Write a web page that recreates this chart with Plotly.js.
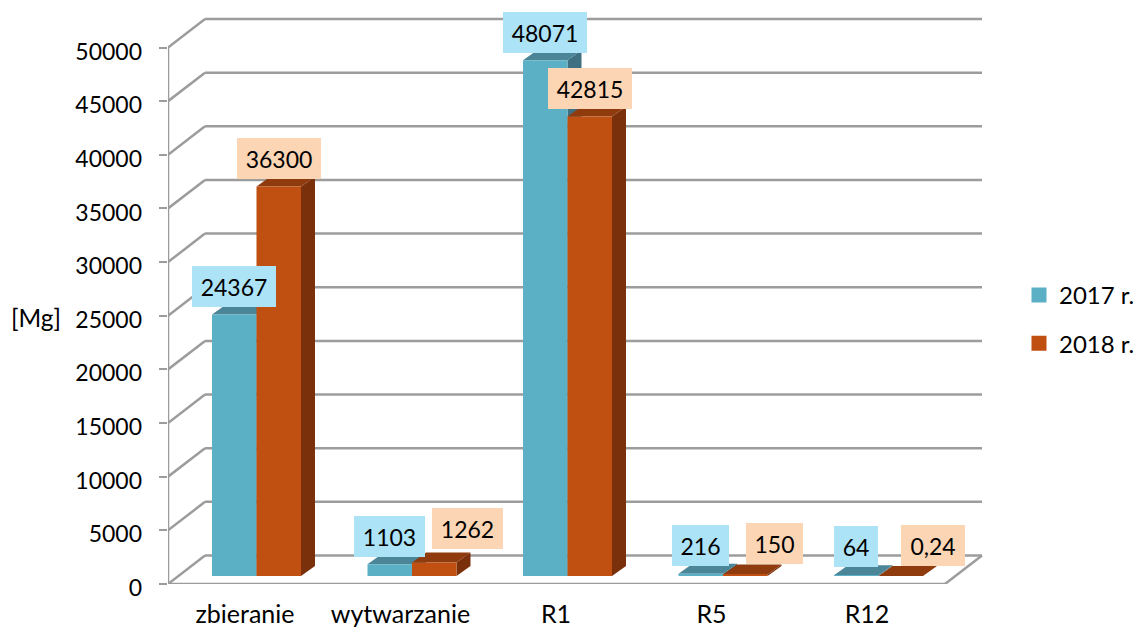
<!DOCTYPE html>
<html>
<head>
<meta charset="utf-8">
<script src="https://cdn.plot.ly/plotly-3.0.1.min.js"></script>
<style>html,body{margin:0;padding:0;background:#fff;overflow:hidden}#c{width:1135px;height:629px}</style>
</head>
<body>
<div id="c"></div>
<script>
const categories = ['zbieranie', 'wytwarzanie', 'R1', 'R5', 'R12'];
const values2017 = [24367, 1103, 48071, 216, 64];
const values2018 = [36300, 1262, 42815, 150, 0.24];
const labels2017 = ['24367', '1103', '48071', '216', '64'];
const labels2018 = ['36300', '1262', '42815', '150', '0,24'];
const yTicks = [0, 5000, 10000, 15000, 20000, 25000, 30000, 35000, 40000, 45000, 50000];

// Presentation constants
const W = 1135, H = 629;
const labelDrop = 4;
const M = {l: 168, r: 151, t: 17, b: 45 - labelDrop, autoexpand: false};
const plotW = W - M.l - M.r, plotH = H - M.t - M.b;
const mainH = plotH - labelDrop;
const pxPerCat = 155.5, pxPerVal = 536.5 / 50000;
const ux = p => p / pxPerCat, uy = p => p / pxPerVal;
const xMin = -77 / pxPerCat;
const xMax = xMin + plotW / pxPerCat;
const yMax = mainH / pxPerVal;
const wallDX = ux(37), wallDY = uy(28.5);
const barW = ux(44.5), barDX = ux(14), barDY = uy(10), barBase = uy(8);
const off17 = ux(-10.75), off18 = ux(33.75);
const floorRight = ux(777) + xMin;
const lineCol = '#9c9c9c';
const c17 = '#5cb0c6', c18 = '#c05011';
const top17 = '#4a8598', side17 = '#3f7081', top18 = '#8f3b0d', side18 = '#7b300c';
const bg17 = '#ade3f7', bg18 = '#fcd5b5';
const shift17X = [0, 0, 0, 0, 0], shift17Y = [28, 28, 28, 28, 29];
const shift18X = [0, 33, 0, 29, 32], shift18Y = [28, 34, 28, 31, 31];
const width17 = [84, 71, 84, 57, 44], width18 = [84, 71, 84, 57, 64];
const fontName = 'Lato, Carlito, sans-serif', fs = 23;
const paperX = px => (px - M.l) / plotW;
const paperY = py => (H - M.b - py) / plotH;

const shapes = [];
const line = (x0, y0, x1, y1) => shapes.push({type: 'line', xref: 'x', yref: 'y', x0, y0, x1, y1, layer: 'below', line: {color: lineCol, width: 2.5}});
yTicks.forEach(v => {
  line(xMin, v, xMin + wallDX, v + wallDY);
  line(xMin + wallDX, v + wallDY, floorRight + wallDX, v + wallDY);
});
line(xMin, 0, xMin, 50000);
line(xMin, 0, floorRight, 0);
line(floorRight, 0, floorRight + wallDX, wallDY);

const poly = (pts, color) => shapes.push({
  type: 'path', xref: 'x', yref: 'y', layer: 'below', line: {width: 0}, fillcolor: color,
  path: 'M' + pts.map(p => p[0] + ',' + p[1]).join('L') + 'Z'
});
const box3d = (vals, off, topCol, sideCol) => vals.forEach((v, i) => {
  const l = i + off - barW / 2, r = i + off + barW / 2, t = barBase + v;
  poly([[r, barBase], [r + barDX, barBase + barDY], [r + barDX, t + barDY], [r, t]], sideCol);
  poly([[l, t], [r, t], [r + barDX, t + barDY], [l + barDX, t + barDY]], topCol);
});
box3d(values2017, off17, top17, side17);
box3d(values2018, off18, top18, side18);

const barTrace = (name, vals, off, color) => ({
  type: 'bar', name, legendgroup: name, showlegend: false,
  x: vals.map((_, i) => i + off), y: vals, base: vals.map(() => barBase),
  width: barW, marker: {color, line: {width: 0}}, hoverinfo: 'y+name'
});
const legendTrace = (name, color) => ({
  type: 'bar', name, legendgroup: name, showlegend: true,
  x: [null], y: [null], marker: {color, line: {color, width: 3}}, hoverinfo: 'skip'
});

const annotations = [];
const addLabels = (vals, texts, off, bg, widths, sx, sy) => vals.forEach((v, i) => annotations.push({
  xref: 'x', yref: 'y', x: i + off, y: barBase + v, text: texts[i], showarrow: false,
  xanchor: 'center', yanchor: 'middle', xshift: sx[i], yshift: sy[i],
  bgcolor: bg, width: widths[i], height: 41, borderpad: 0, borderwidth: 0,
  font: {family: fontName, size: fs, color: '#000'}
}));
addLabels(values2017, labels2017, off17, bg17, width17, shift17X, shift17Y);
addLabels(values2018, labels2018, off18, bg18, width18, shift18X, shift18Y);
annotations.push({xref: 'paper', yref: 'paper', x: paperX(35.5), y: paperY(317), yanchor: 'middle', xanchor: 'center',
  text: '[Mg]', showarrow: false, font: {family: fontName, size: 24.5, color: '#000'}});

Plotly.newPlot('c', [
  barTrace('2017 r.', values2017, off17, c17),
  barTrace('2018 r.', values2018, off18, c18),
  legendTrace('2017 r.', c17),
  legendTrace('2018 r.', c18),
  {type: 'scatter', mode: 'none', x: [null], y: [null], yaxis: 'y2', showlegend: false, hoverinfo: 'skip'}
], {
  width: W, height: H, margin: M, autosize: false,
  paper_bgcolor: '#fff', plot_bgcolor: 'rgba(0,0,0,0)',
  barmode: 'overlay', showlegend: true, font: {family: fontName, size: fs, color: '#000'},
  xaxis: {type: 'linear', range: [xMin, xMax], tickmode: 'array', tickvals: categories.map((_, i) => i), ticktext: categories,
    showgrid: false, zeroline: false, showline: false, ticks: '', ticklabelstandoff: 13, tickfont: {family: fontName, size: 25, color: '#000'}},
  yaxis: {domain: [labelDrop / plotH, 1], range: [0, yMax], tickmode: 'array', tickvals: yTicks, showticklabels: false,
    showgrid: false, zeroline: false, showline: false, ticks: 'outside', ticklen: 8, tickwidth: 2, tickcolor: lineCol},
  yaxis2: {domain: [0, 1 - labelDrop / plotH], anchor: 'x', range: [0, yMax], tickmode: 'array', tickvals: yTicks, ticktext: yTicks.map(String),
    showgrid: false, zeroline: false, showline: false, ticks: '', ticklabelstandoff: 25, tickfont: {family: fontName, size: fs, color: '#000'}},
  legend: {x: paperX(1019), y: paperY(273), xanchor: 'left', yanchor: 'top', traceorder: 'grouped', tracegroupgap: 14,
    bgcolor: 'rgba(0,0,0,0)', font: {family: fontName, size: 24, color: '#000'}},
  shapes, annotations
}, {displayModeBar: false, responsive: false});
</script>
</body>
</html>
